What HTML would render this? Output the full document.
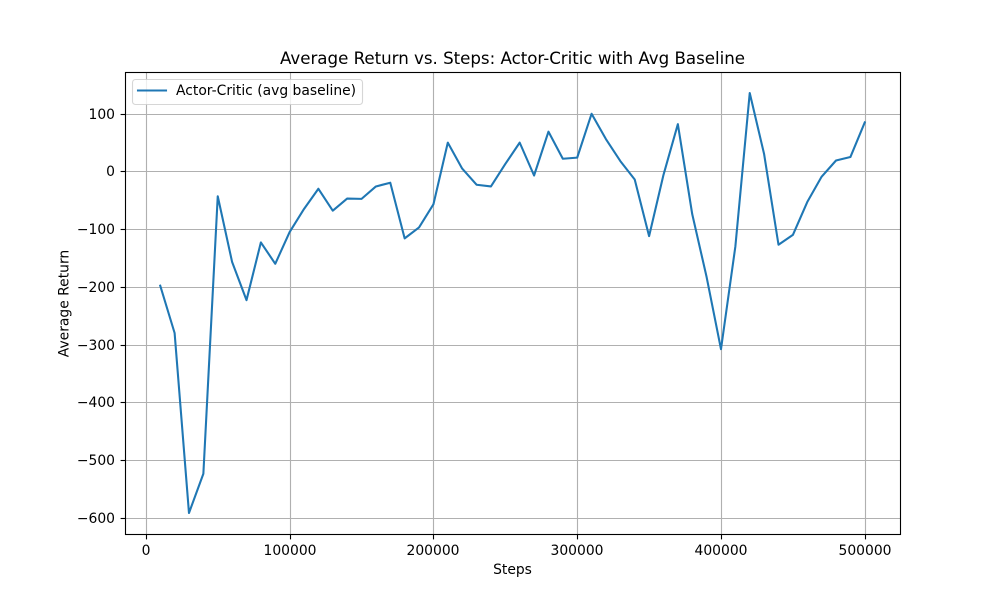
<!DOCTYPE html>
<html>
<head>
<meta charset="utf-8">
<title>Average Return vs. Steps</title>
<style>
html,body{margin:0;padding:0;background:#fff;}
svg{display:block;}
text{font-family:"DejaVu Sans",sans-serif;fill:#000;}
</style>
</head>
<body>
<svg id="chart" xmlns="http://www.w3.org/2000/svg" width="1000" height="600" viewBox="0 0 1000 600">
<rect x="0" y="0" width="1000" height="600" fill="#fff"/>
<g id="grid"></g>
<path id="series" fill="none" stroke="#1f77b4" stroke-width="2.08" stroke-linejoin="round" stroke-linecap="square"/>
<g id="ticks"></g>
<rect x="125.5" y="72.5" width="775" height="462" fill="none" stroke="#000" stroke-width="1.11"/>
<text x="280" y="64" font-size="16.67" textLength="465" lengthAdjust="spacing">Average Return vs. Steps: Actor-Critic with Avg Baseline</text>
<text x="512.5" y="574" font-size="13.89" text-anchor="middle">Steps</text>
<text transform="translate(68.5 303.5) rotate(-90)" font-size="13.89" text-anchor="middle">Average Return</text>
<g>
<rect x="132.5" y="79.5" width="230" height="25" rx="3" ry="3" fill="#fff" fill-opacity="0.8" stroke="#ccc" stroke-opacity="0.8" stroke-width="1.11"/>
<line x1="138" y1="90.5" x2="166" y2="90.5" stroke="#1f77b4" stroke-width="2.08" stroke-linecap="square"/>
<text x="176" y="95" font-size="13.89">Actor-Critic (avg baseline)</text>
</g>
</svg>
<script>
const steps = [10000,20000,30000,40000,50000,60000,70000,80000,90000,100000,
  110000,120000,130000,140000,150000,160000,170000,180000,190000,200000,
  210000,220000,230000,240000,250000,260000,270000,280000,290000,300000,
  310000,320000,330000,340000,350000,360000,370000,380000,390000,400000,
  410000,420000,430000,440000,450000,460000,470000,480000,490000,500000];
const averageReturn = [-198,-280,-592,-524,-43,-157,-223,-123,-160,-105,
  -65,-30,-68,-47,-47.5,-26,-19.5,-116,-97,-57,
  50,5,-23,-26,13,50,-7,69,22,24,
  100,56,18,-14,-112,-6,82,-74,-183,-308,
  -130,136,30,-127,-110,-53,-9,19,25,85];
const xTickValues = [0,100000,200000,300000,400000,500000];
const yTickValues = [100,0,-100,-200,-300,-400,-500,-600];

const plotLeft = 125, plotRight = 900, plotTop = 72, plotBottom = 534;
const NS = 'http://www.w3.org/2000/svg';

function extent(a){ return [Math.min.apply(null,a), Math.max.apply(null,a)]; }
const xExt = extent(steps), yExt = extent(averageReturn);
const xPad = (xExt[1]-xExt[0])*0.05, yPad = (yExt[1]-yExt[0])*0.05;
const xMin = xExt[0]-xPad, xMax = xExt[1]+xPad, yMin = yExt[0]-yPad, yMax = yExt[1]+yPad;

function xScale(v){ return plotLeft + (v-xMin)/(xMax-xMin)*(plotRight-plotLeft); }
function yScale(v){ return plotBottom - (v-yMin)/(yMax-yMin)*(plotBottom-plotTop); }
function snap(p){ return Math.floor(p+0.5)+0.5; }

function makeLine(parent,x1,y1,x2,y2,color){
  const l = document.createElementNS(NS,'line');
  l.setAttribute('x1',x1);
  l.setAttribute('y1',y1);
  l.setAttribute('x2',x2);
  l.setAttribute('y2',y2);
  l.setAttribute('stroke',color);
  l.setAttribute('stroke-width','1.11');
  parent.appendChild(l);
  return l;
}
function makeLabel(parent,x,y,anchor,str){
  const t = document.createElementNS(NS,'text');
  t.setAttribute('x',x);
  t.setAttribute('y',y);
  t.setAttribute('text-anchor',anchor);
  t.setAttribute('font-size','13.89');
  t.textContent = str;
  parent.appendChild(t);
  return t;
}

const gridG = document.getElementById('grid');
const tickG = document.getElementById('ticks');

xTickValues.forEach(function(v){
  const px = snap(xScale(v));
  const g = makeLine(gridG,px,plotTop,px,plotBottom,'#b0b0b0');
  
  
  const m = makeLine(tickG,px,plotBottom,px,plotBottom+5.4,'#000');
  
  
  const t = makeLabel(tickG,px-0.5,555,'middle',String(v));
  
  
});

yTickValues.forEach(function(v){
  const py = snap(yScale(v));
  const g = makeLine(gridG,plotLeft,py,plotRight,py,'#b0b0b0');
  
  
  const m = makeLine(tickG,plotLeft-4.4,py,plotLeft,py,'#000');
  
  
  const str = v < 0 ? '\u2212' + Math.abs(v) : String(v);
  const t = makeLabel(tickG,plotLeft-10,py+4.6,'end',str);
  
  
});

let d = '';
steps.forEach(function(s,i){
  d += (i ? 'L' : 'M') + xScale(s).toFixed(2) + ' ' + yScale(averageReturn[i]).toFixed(2);
});
document.getElementById('series').setAttribute('d', d);
</script>
</body>
</html>
